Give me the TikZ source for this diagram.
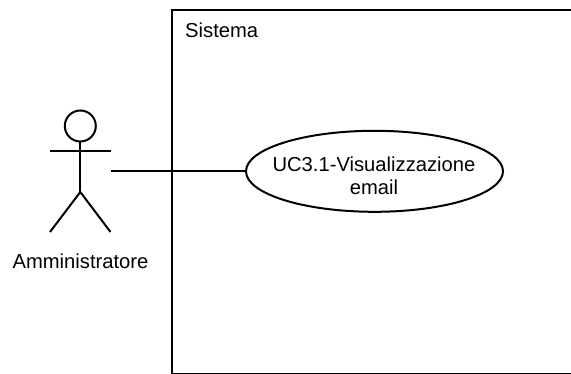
\documentclass[tikz,border=0pt]{standalone}
\usepackage{fontspec}
\usetikzlibrary{shapes.geometric}
\setmainfont{Liberation Sans}
\begin{document}
\begin{tikzpicture}[x=1pt,y=-1pt,
  ln/.style={draw=black,line width=2pt},
  lab/.style={font=\fontsize{20.2}{23.5}\selectfont,inner sep=0pt,align=center,text=black}]
\useasboundingbox (0,0) rectangle (571,374);
\draw[ln] (572,9.7) -- (171.7,9.7) -- (171.7,374.4) -- (572,374.4);
\node[lab,anchor=west] (sys) at (185,30) {Sistema};
\node[ln,circle,minimum size=31pt,inner sep=0pt] (head) at (80.3,126) {};
\coordinate (hip) at (80.3,192);
\coordinate (armL) at (50,151.3);
\coordinate (armR) at (110.5,151.3);
\coordinate (footL) at (50,232);
\coordinate (footR) at (110.5,232);
\draw[ln] (head) -- (hip);
\draw[ln] (armL) -- (armR);
\draw[ln] (footL) -- (hip) -- (footR);
\node[lab] (actor) at (80.5,261.5) {Amministratore};
\node[ln,ellipse,minimum width=257pt,minimum height=81pt,inner sep=0pt] (uc) at (374.5,171.3) {};
\node[lab] (uctext) at (374,176) {UC3.1-Visualizzazione\\email};
\coordinate (actorR) at (110.5,171.3);
\draw[ln] (actorR) -- (uc);
\end{tikzpicture}
\end{document}
